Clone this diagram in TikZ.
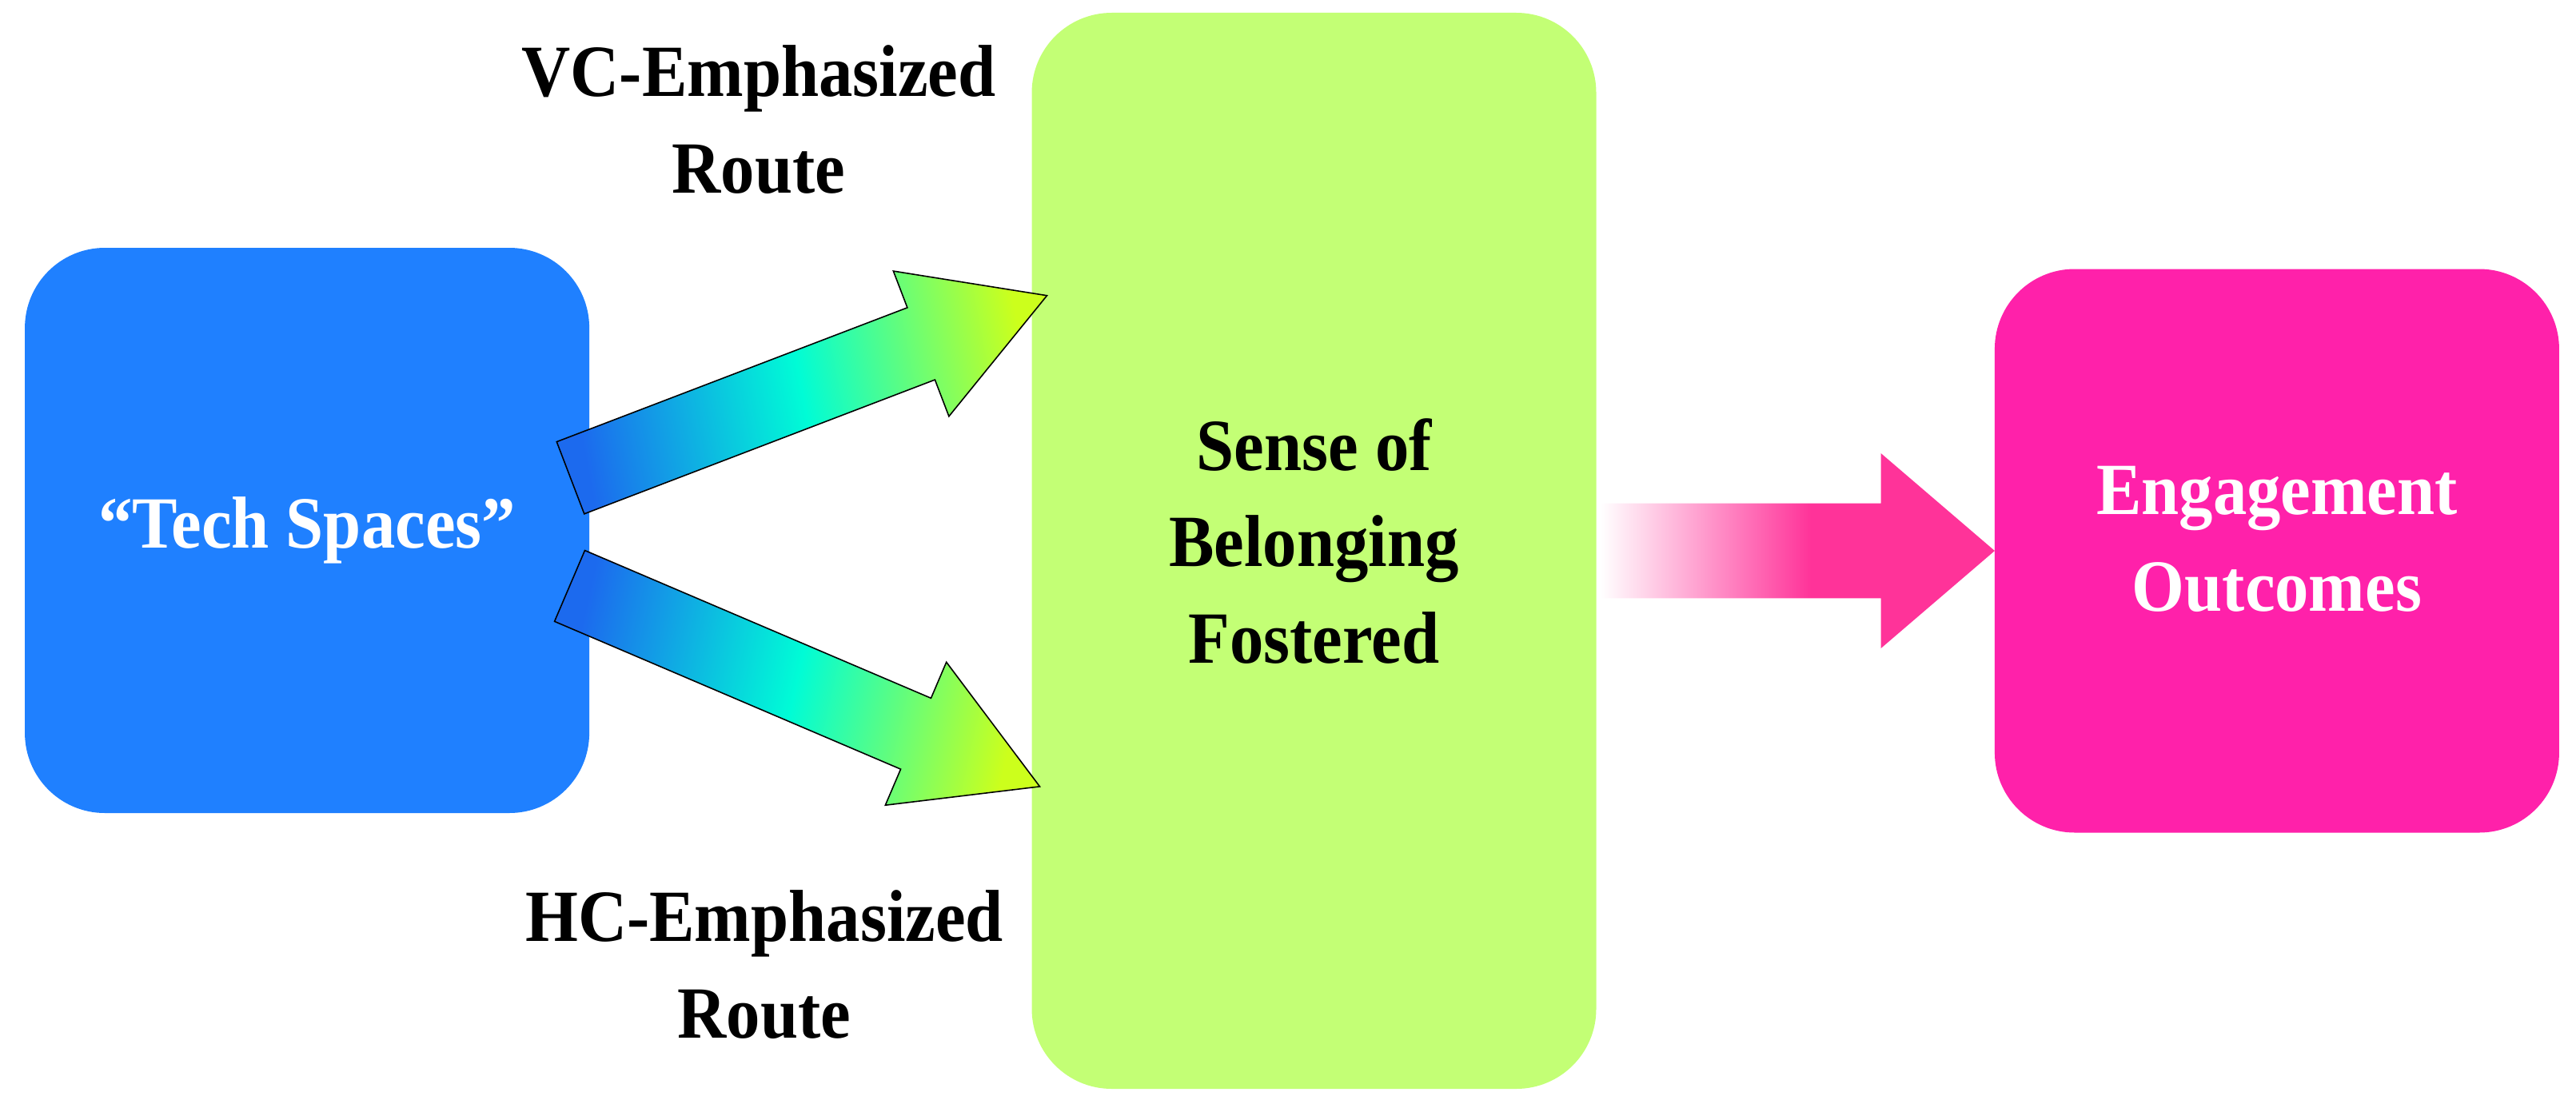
\documentclass[tikz,border=0pt]{standalone}
\usepackage{fontspec}
\setmainfont{Liberation Serif}[FakeStretch=0.92]
\usetikzlibrary{positioning,shapes.arrows,calc}

\definecolor{techblue}{HTML}{1F80FF}
\definecolor{belonggreen}{HTML}{C3FF75}
\definecolor{outcomepink}{HTML}{FF21AA}
\definecolor{flowpink}{HTML}{FF3399}
\definecolor{routeblue}{HTML}{1C6AEE}
\definecolor{routecyan}{HTML}{00FCD6}
\definecolor{routelime}{HTML}{CCFF1C}

\pgfdeclarehorizontalshading{routeshade}{100bp}{color(0bp)=(routeblue); color(25bp)=(routeblue); color(50bp)=(routecyan); color(75bp)=(routelime); color(100bp)=(routelime)}
\pgfdeclarehorizontalshading{flowshade}{100bp}{color(0bp)=(white); color(25bp)=(white); color(51.7bp)=(flowpink); color(100bp)=(flowpink)}

\newcommand{\diagfont}{\bfseries\fontsize{26.2}{34.4}\selectfont}

\tikzset{
  Box/.style={rectangle, rounded corners=1cm, minimum width=7.06cm},
  BoxText/.style={align=center, font=\diagfont},
  RouteLabel/.style={align=center, font=\diagfont},
  RouteArrow/.style={single arrow, draw=black, line width=0.45pt, shading=routeshade,
    inner xsep=0pt, inner ysep=0.475cm, single arrow head extend=0.49cm,
    single arrow tip angle=60, anchor=tail},
  FlowArrow/.style={single arrow, shading=flowshade, shading angle=0,
    inner xsep=0pt, inner ysep=0.586cm, single arrow head extend=0.627cm,
    single arrow tip angle=81.2, anchor=tail}
}

\begin{document}
\begin{tikzpicture}
    \useasboundingbox (0,0) rectangle (32.22,13.90);

    % boxes
    \node[Box, fill=belonggreen, minimum height=13.46cm,
      label={[BoxText, yshift=0.12cm]center:{Sense of\\Belonging\\Fostered}}] (sense) at (16.435,7.01) {};
    \node[Box, fill=techblue, minimum height=7.07cm, left=5.52cm of sense, yshift=0.255cm,
      label={[BoxText, text=white]center:{“Tech Spaces”}}] (tech) {};
    \node[Box, fill=outcomepink, minimum height=7.05cm, right=4.97cm of sense,
      label={[BoxText, text=white, yshift=0.145cm]center:{Engagement\\Outcomes}}] (outcome) {};

    % route labels
    \node[RouteLabel] (vclabel) at (9.49,12.40) {VC-Emphasized\\Route};
    \node[RouteLabel] (hclabel) at (9.56,1.832) {HC-Emphasized\\Route};

    % arrow ends
    \coordinate (vctail) at ($(tech.east)+(-0.25,0.655)$);
    \coordinate (vctip) at ($(sense.west)+(0.19,3.19)$);
    \coordinate (hctail) at ($(tech.east)+(-0.26,-0.691)$);
    \coordinate (hctip) at ($(sense.west)+(0.10,-2.946)$);
    \coordinate (flowtail) at ($(sense.east)+(0.04,0)$);

    \path let \p1=($(vctip)-(vctail)$), \n1={atan2(\y1,\x1)}, \n2={veclen(\x1,\y1)} in
      node[RouteArrow, shading angle=10.7, rotate=\n1, minimum height=\n2] (vcarrow) at (vctail) {};
    \path let \p1=($(hctip)-(hctail)$), \n1={atan2(\y1,\x1)}, \n2={veclen(\x1,\y1)} in
      node[RouteArrow, shading angle=-12.6, rotate=\n1, minimum height=\n2] (hcarrow) at (hctail) {};
    \path let \p1=($(outcome.west)-(flowtail)$), \n2={veclen(\x1,\y1)} in
      node[FlowArrow, minimum height=\n2] (flowarrow) at (flowtail) {};
\end{tikzpicture}
\end{document}
